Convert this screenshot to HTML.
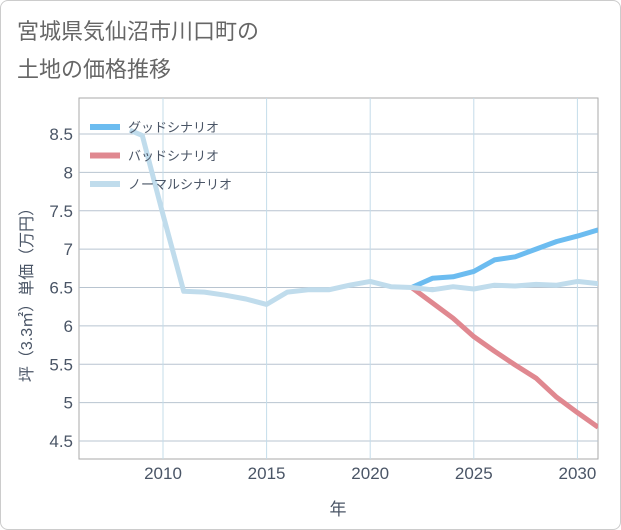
<!DOCTYPE html>
<html><head><meta charset="utf-8"><style>
body{margin:0;background:#fff;}
#wrap{position:relative;width:619px;height:528px;border:1px solid #ccc;border-radius:8px;background:#fff;font-family:"Liberation Sans","Noto Sans CJK JP",sans-serif;overflow:hidden}
#title{position:absolute;left:16px;top:12px;font-size:22px;line-height:38px;color:#666;}
</style></head><body>
<div id="wrap">
<div id="title">宮城県気仙沼市川口町の<br>土地の価格推移</div>
<svg id="chart" width="619" height="528" style="position:absolute;left:0;top:0"></svg>
</div>
<script>
const xTicks=[2010,2015,2020,2025,2030];
const yTicks=[4.5,5,5.5,6,6.5,7,7.5,8,8.5];
const yTickLabels=["4.5","5","5.5","6","6.5","7","7.5","8","8.5"];
const normalYears=[2008.4,2009,2010,2011,2012,2013,2014,2015,2016,2017,2018,2019,2020,2021,2022,2023,2024,2025,2026,2027,2028,2029,2030,2031];
const normalValues=[8.55,8.48,7.45,6.45,6.44,6.4,6.35,6.28,6.44,6.47,6.47,6.53,6.58,6.51,6.5,6.47,6.51,6.48,6.53,6.52,6.54,6.53,6.58,6.55];
const goodYears=[2022,2023,2024,2025,2026,2027,2028,2029,2030,2031];
const goodValues=[6.5,6.62,6.64,6.71,6.86,6.9,7.0,7.1,7.17,7.25];
const badYears=[2022,2023,2024,2025,2026,2027,2028,2029,2030,2031];
const badValues=[6.5,6.3,6.1,5.86,5.67,5.49,5.32,5.07,4.87,4.68];
const L=78,R=597,T=97,B=458;
const x=v=>162+(v-2010)*20.72;
const y=v=>133+(8.5-v)*76.75;
const svg=document.getElementById('chart');
const NS='http://www.w3.org/2000/svg';
function mk(t,a){const e=document.createElementNS(NS,t);for(const k in a)e.setAttribute(k,a[k]);svg.appendChild(e);return e;}
let bg=mk('rect',{x:L,y:T,width:R-L,height:B-T,fill:'#fff',stroke:'#aaa'});


yTicks.forEach((v,i)=>{
 let g=mk('line',{x1:L,x2:R,y1:y(v),y2:y(v),stroke:'#b8c4d0','stroke-width':1});
 
 
 let t=mk('text',{x:L-6,y:y(v)+6,'text-anchor':'end','font-size':17,fill:'#4a5566'});
 t.textContent=yTickLabels[i];
 
 
});
xTicks.forEach(v=>{
 let g=mk('line',{x1:x(v),x2:x(v),y1:T,y2:B,stroke:'#c4dcea','stroke-width':1});
 
 
 let t=mk('text',{x:x(v),y:478,'text-anchor':'middle','font-size':17,fill:'#4a5566'});
 t.textContent=v;
 
 
});
let xt=mk('text',{x:337,y:514,'text-anchor':'middle','font-size':17,fill:'#4a5566'});
xt.textContent='年';


let yt=mk('text',{x:0,y:0,'text-anchor':'middle','font-size':16,fill:'#4a5566',transform:'translate(31,290) rotate(-90)'});
yt.textContent='坪（3.3㎡）単価（万円）';


function line(xs,vs,c,name){
 const d=xs.map((v,i)=>(i?'L':'M')+x(v).toFixed(1)+','+y(vs[i]).toFixed(1)).join(' ');
 const p=mk('path',{d:d,fill:'none',stroke:c,'stroke-width':5,'stroke-linejoin':'round'});
 
 
}
const cp=mk('clipPath',{id:'cp'});
const cr=document.createElementNS(NS,'rect');cr.setAttribute('x',L);cr.setAttribute('y',T);cr.setAttribute('width',R-L);cr.setAttribute('height',B-T);cp.appendChild(cr);
line(badYears,badValues,'#e08890','bad-scenario-line');
line(goodYears,goodValues,'#6cbcf0','good-scenario-line');
line(normalYears,normalValues,'#c0dcec','normal-scenario-line');
svg.querySelectorAll('path').forEach(p=>p.setAttribute('clip-path','url(#cp)'));
const legNames=['グッドシナリオ','バッドシナリオ','ノーマルシナリオ'];
const legColors=['#6cbcf0','#e08890','#c0dcec'];
legNames.forEach((n,i)=>{
 const yy=126+i*28.5;
 let r=mk('rect',{x:89,y:yy-3,width:30,height:6,fill:legColors[i]});
 
 
 let t=mk('text',{x:127,y:yy+5,'font-size':13,fill:'#4a5566'});
 t.textContent=n;
 
 
});
</script>
</body></html>
